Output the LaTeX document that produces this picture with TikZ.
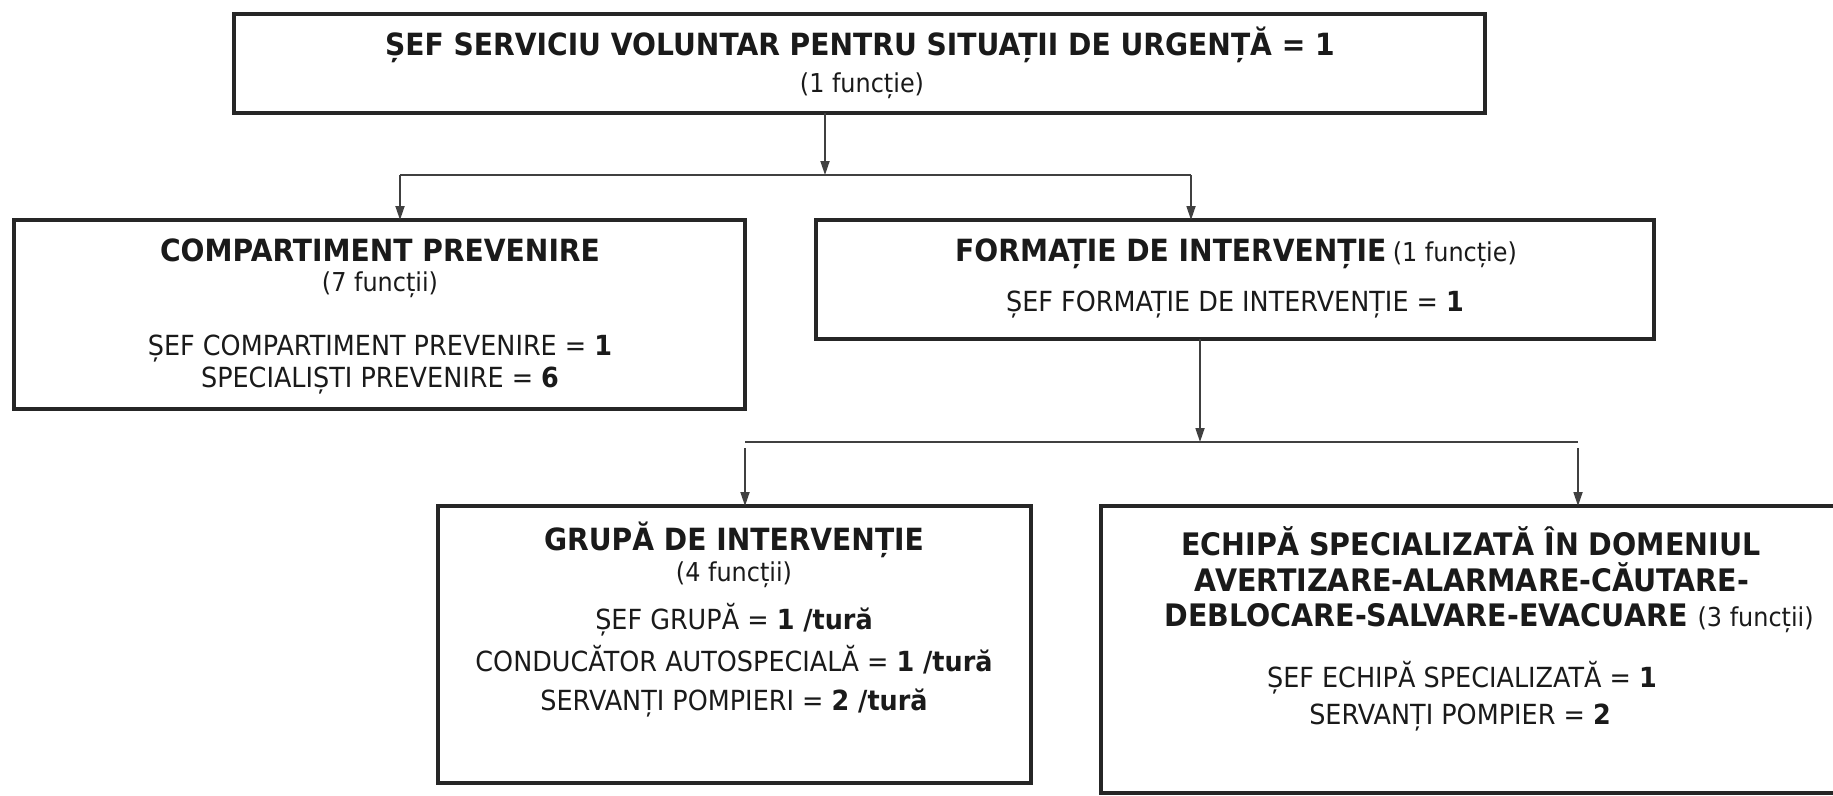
\documentclass[tikz,border=0pt]{standalone}
\usepackage{fontspec}
\setmainfont{DejaVu Sans}[FakeStretch=0.92]
\usetikzlibrary{arrows.meta}
\definecolor{boxc}{HTML}{262626}
\definecolor{linec}{HTML}{404040}
\definecolor{txtc}{HTML}{1A1A1A}
\begin{document}
\begin{tikzpicture}[x=1pt,y=-1pt,
  box/.style={draw=boxc, line width=4pt, inner sep=0pt, outer sep=0pt},
  conn/.style={draw=linec, line width=1.8pt},
  arr/.style={conn, -{Triangle[length=14pt,width=9pt]}},
  txt/.style={inner sep=0pt, anchor=base, text=txtc},
  hd/.style={txt, font=\fontsize{30.6}{36}\selectfont\bfseries},
  hde/.style={txt, font=\fontsize{31}{36}\selectfont\bfseries},
  bd/.style={txt, font=\fontsize{27.7}{33}\selectfont},
  sb/.style={txt, font=\fontsize{26}{31}\selectfont}]
\useasboundingbox (0,0) rectangle (1833,795);
\fill[white] (0,0) rectangle (1833,795);
\clip (0,0) rectangle (1833,795);

% boxes
\node[box, minimum width=1251pt, minimum height=99pt] (top) at (859.5,63.5) {};
\node[box, minimum width=731pt, minimum height=189pt] (comp) at (379.5,314.5) {};
\node[box, minimum width=838pt, minimum height=119pt] (form) at (1235,279.5) {};
\node[box, minimum width=593pt, minimum height=277pt] (grupa) at (734.5,644.5) {};
\node[box, minimum width=749pt, minimum height=287pt] (echipa) at (1475.5,649.5) {};

% texts
\node[hd] (t1) at (860,55) {ȘEF SERVICIU VOLUNTAR PENTRU SITUAȚII DE URGENȚĂ = 1};
\node[sb] (t2) at (862,92) {(1 funcție)};

\node[hd] (c1) at (380,261) {COMPARTIMENT PREVENIRE};
\node[sb] (c2) at (380,291) {(7 funcții)};
\node[bd] (c3) at (380,355) {ȘEF COMPARTIMENT PREVENIRE = \textbf{1}};
\node[bd] (c4) at (380,387) {SPECIALIȘTI PREVENIRE = \textbf{6}};

\node[hd, anchor=base west] (f1) at (955,261) {FORMAȚIE DE INTERVENȚIE};
\node[sb, anchor=base west, xshift=6pt] (f2) at (f1.base east) {(1 funcție)};
\node[bd] (f3) at (1235,311) {ȘEF FORMAȚIE DE INTERVENȚIE = \textbf{1}};

\node[hd] (g1) at (734,550) {GRUPĂ DE INTERVENȚIE};
\node[sb] (g2) at (734,581) {(4 funcții)};
\node[bd] (g3) at (734,629) {ȘEF GRUPĂ = \textbf{1 /tură}};
\node[bd] (g4) at (734,671) {CONDUCĂTOR AUTOSPECIALĂ = \textbf{1 /tură}};
\node[bd] (g5) at (734,710) {SERVANȚI POMPIERI = \textbf{2 /tură}};

\node[hde] (e1) at (1471,555) {ECHIPĂ SPECIALIZATĂ ÎN DOMENIUL};
\node[hde] (e2) at (1472,591) {AVERTIZARE-ALARMARE-CĂUTARE-};
\node[hde] (e3) at (1489,626) {DEBLOCARE-SALVARE-EVACUARE {\mdseries\fontsize{26}{31}\selectfont (3 funcții)}};
\node[bd] (e4) at (1462,687) {ȘEF ECHIPĂ SPECIALIZATĂ = \textbf{1}};
\node[bd] (e5) at (1460,724) {SERVANȚI POMPIER = \textbf{2}};

% connectors level 1
\coordinate (s1) at (825,175);
\coordinate (bl) at (400,175);
\coordinate (br) at (1191,175);
\draw[conn] (bl) -- (br);
\draw[arr] (top.south -| s1) -- (s1);
\draw[arr] (bl) -- (bl |- comp.north);
\draw[arr] (br) -- (br |- form.north);

% connectors level 2
\coordinate (s2) at (1200,442);
\coordinate (cl) at (745,442);
\coordinate (cr) at (1578,442);
\draw[conn] (cl) -- (cr);
\draw[arr] (form.south -| s2) -- (s2);
\draw[arr] ([yshift=-6pt]cl) -- (cl |- grupa.north);
\draw[arr] ([yshift=-6pt]cr) -- (cr |- echipa.north);
\end{tikzpicture}
\end{document}
